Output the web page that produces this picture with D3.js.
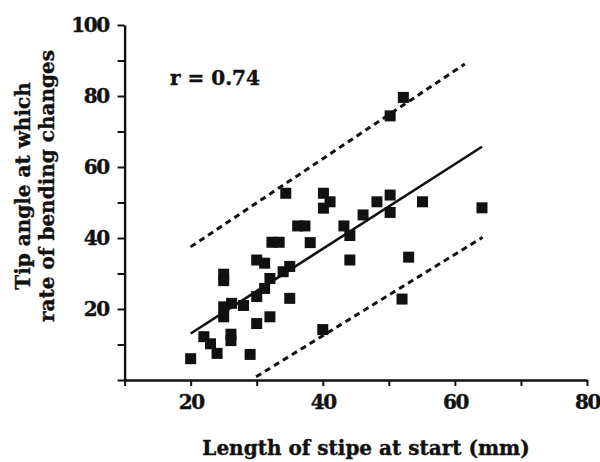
<!DOCTYPE html>
<html lang="en">
	<head>
		<meta charset="UTF-8" />
		<title>Stipe length vs tip angle</title>
		<script src="https://d3js.org/d3.v7.min.js"></script>
		<style>
			body {
				margin: 0;
				background: #fff;
			}
			svg text {
				font-family: "DejaVu Serif", "Liberation Serif", serif;
				font-weight: bold;
				fill: #111;
				stroke: #111;
				stroke-width: 0.4px;
			}
		</style>
	</head>
	<body>
		<svg></svg>

		<script>
			// Data: stipe length (mm) and tip angle
			const stipeLength = [
				20, 22, 23, 24, 25, 25, 25, 26.2, 25, 26.1, 26.1, 28, 29, 30, 30, 31.2, 32, 30, 31.2, 32, 32.3, 33.4,
				34, 35, 35, 34.4, 36.2, 37.3, 38.1, 40, 40.1, 41.1, 40.1, 43.2, 44.1, 44.1, 46.1, 48.2, 50.2, 50.2,
				50.2, 52.2, 52, 53, 55.1, 64.1,
			];
			const tipAngle = [
				6, 12.2, 10.2, 7.5, 29.8, 28, 20.6, 21.6, 17.8, 12.9, 11.1, 21, 7.2, 15.9, 23.5, 25.8, 28.6, 33.8, 32.9,
				17.8, 38.8, 38.8, 30.5, 32, 23, 52.6, 43.4, 43.4, 38.7, 14.2, 52.6, 50.2, 48.4, 43.4, 40.7, 33.8, 46.5,
				50.2, 52.1, 47.2, 74.4, 79.6, 22.8, 34.6, 50.2, 48.5,
			];

			// Regression line and the two dashed bounds (end points, data units)
			const fitLine = [
				[20, 13.1],
				[64.1, 65.7],
			];
			const upperBound = [
				[20, 37.5],
				[61.5, 89],
			];
			const lowerBound = [
				[29.9, 0.9],
				[64.2, 40.2],
			];

			const xTicks = [10, 20, 30, 40, 50, 60, 70, 80];
			const yTicks = [0, 10, 20, 30, 40, 50, 60, 70, 80, 90, 100];
			const rLabel = "r = 0.74";

			// Define constants
			const WIDTH = 600;
			const HEIGHT = 462;
			const MARGINS = { top: 25, right: 13, bottom: 82, left: 124.6 };

			const xScale = d3
				.scaleLinear()
				.domain([10, 80])
				.range([MARGINS.left, WIDTH - MARGINS.right]);
			const yScale = d3
				.scaleLinear()
				.domain([0, 100])
				.range([HEIGHT - MARGINS.bottom, MARGINS.top]);

			const svg = d3.select("svg").attr("width", WIDTH).attr("height", HEIGHT);

			// Axes
			const xAxis = svg
				.append("g")
				.attr("transform", `translate(0, ${yScale(0)})`)
				.call(
					d3
						.axisBottom(xScale)
						.tickValues(xTicks)
						.tickSize(6)
						.tickSizeOuter(0)
						.tickPadding(9)
						.tickFormat((d) => (d % 20 === 0 ? d : ""))
				);

			const yAxis = svg
				.append("g")
				.attr("transform", `translate(${xScale(10)}, 0)`)
				.call(
					d3
						.axisLeft(yScale)
						.tickValues(yTicks)
						.tickSize(7)
						.tickSizeOuter(0)
						.tickPadding(9)
						.tickFormat((d) => (d % 20 === 0 && d > 0 ? d : ""))
				);

			[xAxis, yAxis].forEach((ax) => {
				ax.attr("font-family", null).attr("font-size", null);
				ax.select(".domain").attr("stroke", "#111").attr("stroke-width", 2.4);
				ax.selectAll(".tick line").attr("stroke", "#111").attr("stroke-width", 2);
				ax.selectAll(".tick text")
					.style("font-family", '"DejaVu Serif", serif')
					.style("font-size", "20px")
					.style("letter-spacing", "-1.5px")
					.attr("fill", "#111");
			});

			// Lines
			const line = d3
				.line()
				.x((d) => xScale(d[0]))
				.y((d) => yScale(d[1]));

			svg.append("path")
				.datum(fitLine)
				.attr("d", line)
				.attr("fill", "none")
				.attr("stroke", "#111")
				.attr("stroke-width", 2.6);

			svg.selectAll(".bound")
				.data([upperBound, lowerBound])
				.enter()
				.append("path")
				.classed("bound", true)
				.attr("d", line)
				.attr("fill", "none")
				.attr("stroke", "#111")
				.attr("stroke-width", 3)
				.attr("stroke-dasharray", "6,4.5");

			// Points
			const SIZE = 11;
			svg.selectAll(".pt")
				.data(stipeLength.map((x, i) => [x, tipAngle[i]]))
				.enter()
				.append("rect")
				.classed("pt", true)
				.attr("x", (d) => xScale(d[0]) - SIZE / 2)
				.attr("y", (d) => yScale(d[1]) - SIZE / 2)
				.attr("width", SIZE)
				.attr("height", SIZE)
				.attr("fill", "#111");

			// Labels
			svg.append("text")
				.attr("x", 170)
				.attr("y", 85)
				.style("font-size", "20px")
				.text(rLabel);

			svg.append("text")
				.attr("x", 366)
				.attr("y", 455)
				.attr("text-anchor", "middle")
				.style("font-size", "20px")
				.text("Length of stipe at start (mm)");

			const yTitle = svg
				.append("text")
				.attr("transform", "translate(30, 186) rotate(-90)")
				.attr("text-anchor", "middle")
				.style("font-size", "20px");
			yTitle.append("tspan").attr("x", 0).attr("dy", 0).text("Tip angle at which");
			yTitle.append("tspan").attr("x", 0).attr("dy", 24).text("rate of bending changes");
		</script>
	</body>
</html>
